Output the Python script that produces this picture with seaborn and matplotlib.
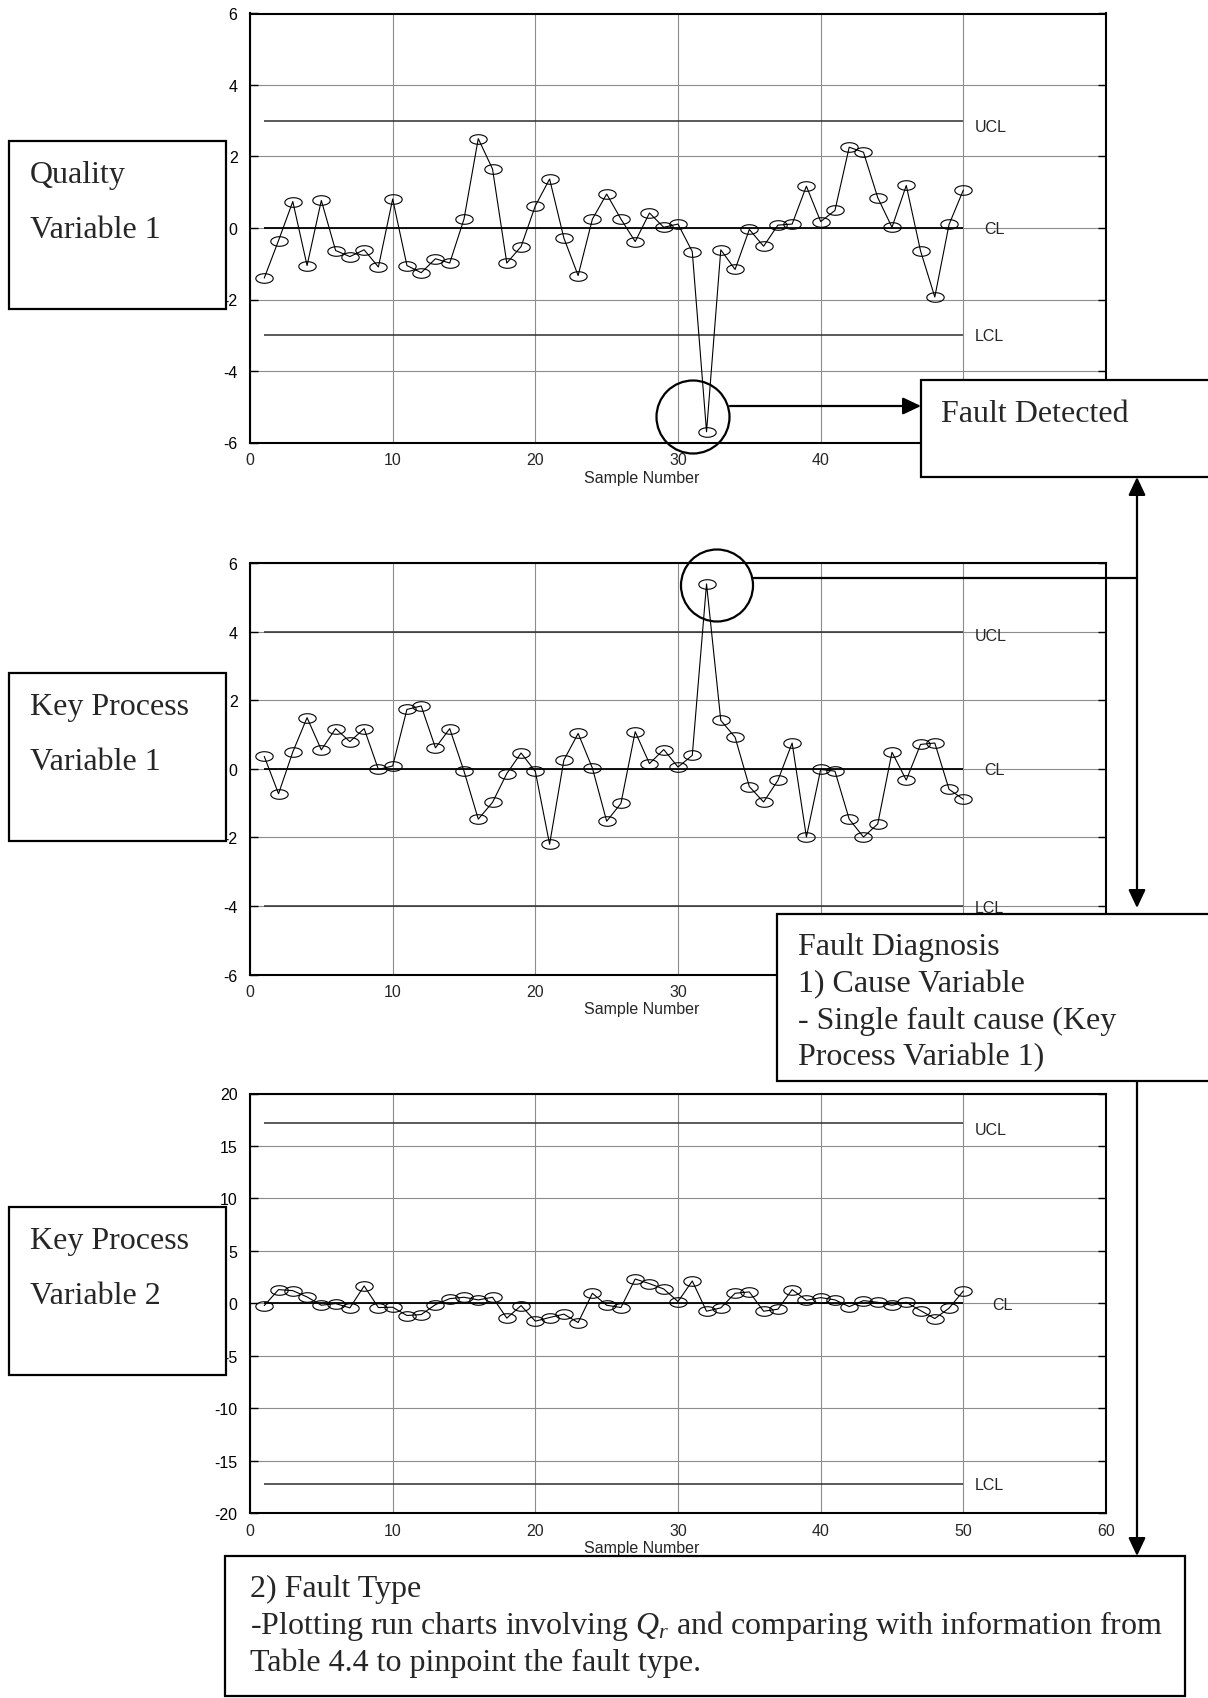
import numpy as np
import pandas as pd
import matplotlib
matplotlib.use("Agg")
import matplotlib.pyplot as plt
from matplotlib.path import Path
from matplotlib.patches import Rectangle, Circle
import seaborn as sns

# ---------------- data ----------------
sample = list(range(1, 51))

quality_var1 = [-1.40, -0.35, 0.74, -1.05, 0.77, -0.63, -0.80, -0.61, -1.09, 0.81,
                -1.05, -1.25, -0.86, -0.98, 0.25, 2.50, 1.65, -0.98, -0.52, 0.62,
                1.37, -0.28, -1.33, 0.25, 0.95, 0.25, -0.38, 0.42, 0.02, 0.11,
                -0.66, -5.70, -0.61, -1.16, -0.04, -0.51, 0.08, 0.11, 1.17, 0.18,
                0.49, 2.26, 2.12, 0.85, 0.02, 1.19, -0.64, -1.93, 0.10, 1.06]

key_var1 = [0.36, -0.73, 0.49, 1.49, 0.55, 1.17, 0.79, 1.17, -0.02, 0.08,
            1.73, 1.83, 0.61, 1.17, -0.07, -1.47, -0.98, -0.14, 0.46, -0.08,
            -2.20, 0.25, 1.03, 0.02, -1.53, -1.01, 1.08, 0.15, 0.56, 0.05,
            0.39, 5.39, 1.41, 0.92, -0.52, -0.97, -0.34, 0.75, -1.99, -0.02,
            -0.07, -1.47, -1.99, -1.61, 0.48, -0.33, 0.71, 0.75, -0.60, -0.89]

key_var2 = [-0.22, 1.30, 1.20, 0.60, -0.19, -0.03, -0.44, 1.65, -0.41, -0.38,
            -1.17, -1.08, -0.13, 0.44, 0.57, 0.32, 0.57, -1.42, -0.22, -1.71,
            -1.36, -1.04, -1.84, 0.95, -0.19, -0.41, 2.31, 1.87, 1.36, 0.16,
            2.12, -0.76, -0.44, 0.95, 1.08, -0.76, -0.57, 1.30, 0.28, 0.54,
            0.32, -0.32, 0.25, 0.09, -0.19, 0.09, -0.70, -1.46, -0.47, 1.17]

# control limits (UCL, CL, LCL)
limits_q1 = (3.0, 0.0, -3.0)
limits_k1 = (4.0, 0.0, -4.0)
limits_k2 = (17.2, 0.0, -17.2)

y_range_small = (-6, 6, 2)
y_range_large = (-20, 20, 5)
x_ticks = [0, 10, 20, 30, 40, 50, 60]
x_labels_full = ["0", "10", "20", "30", "40", "50", "60"]
x_labels_mid = ["0", "10", "20", "30", "", "", ""]   # rest sits under the diagnosis box

box_titles = [["Quality", "Variable 1"],
              ["Key Process", "Variable 1"],
              ["Key Process", "Variable 2"]]
diagnosis_lines = ["Fault Diagnosis", "1) Cause Variable",
                   "- Single fault cause (Key", "Process Variable 1)"]
fault_type_lines = ["2) Fault Type",
                    "-Plotting run charts involving $Q_r$ and comparing with information from",
                    "Table 4.4 to pinpoint the fault type."]

# ---------------- style ----------------
sns.set_style("white")
plt.rcParams["font.family"] = ["Liberation Sans", "DejaVu Sans"]
plt.rcParams["axes.unicode_minus"] = False
plt.rcParams["mathtext.fontset"] = "custom"
plt.rcParams["mathtext.rm"] = "Liberation Serif"
plt.rcParams["mathtext.it"] = "Liberation Serif:italic"

W, H = 1208, 1699
fig = plt.figure(figsize=(W / 100, H / 100), dpi=100)

def px_axes(left, top, right, bottom):
    return fig.add_axes([left / W, 1 - bottom / H, (right - left) / W, (bottom - top) / H])

theta = np.linspace(0, 2 * np.pi, 64)
ellipse_marker = Path(np.column_stack([np.cos(theta), 0.55 * np.sin(theta)]), closed=True)

TXT = 11.5

def control_chart(ax, values, limits, yr, cl_x, offs, xlabels):
    ucl, cl, lcl = limits
    ax.hlines([ucl, lcl], 1, 50, color="#2e2e2e", lw=1.1, zorder=2)
    ax.hlines([cl], 1, 50, color="black", lw=1.3, zorder=2)
    df = pd.DataFrame({"Sample Number": sample, "value": values})
    sns.lineplot(data=df, x="Sample Number", y="value", ax=ax, color="black",
                 lw=0.8, marker=ellipse_marker, markersize=12.5,
                 markerfacecolor="none", markeredgecolor="black",
                 markeredgewidth=0.8, zorder=3)
    ax.annotate("UCL", xy=(50.8, ucl), xytext=(0, -offs[0]), textcoords="offset pixels",
                va="center", ha="left", fontsize=TXT)
    ax.annotate("CL", xy=(cl_x, cl), xytext=(0, -1), textcoords="offset pixels",
                va="center", ha="left", fontsize=TXT)
    ax.annotate("LCL", xy=(50.8, lcl), xytext=(0, -offs[1]), textcoords="offset pixels",
                va="center", ha="left", fontsize=TXT)
    ax.set_xlim(0, 60)
    ax.set_ylim(yr[0], yr[1])
    ax.set_xticks(x_ticks)
    ax.set_xticklabels(xlabels)
    ax.set_yticks(np.arange(yr[0], yr[1] + 1, yr[2]))
    ax.grid(True, color="#8c8c8c", lw=0.8)
    ax.set_axisbelow(True)
    ax.tick_params(axis="y", direction="in", length=6, width=1, left=True, right=True,
                   pad=9, labelsize=TXT, colors="black")
    ax.tick_params(axis="x", length=0, pad=7, labelsize=TXT)
    for s in ax.spines.values():
        s.set_linewidth(1.5)
        s.set_color("black")
    ax.set_ylabel("")
    ax.set_xlabel("Sample Number", fontsize=TXT)
    h = ax.get_position().height * H
    ax.xaxis.set_label_coords(0.457, -27 / h)

ax1 = px_axes(250, 14.5, 1106, 443.5)
control_chart(ax1, quality_var1, limits_q1, y_range_small, 51.5, (6, 0), x_labels_full)

ax2 = px_axes(250, 564, 1106, 975.5)
control_chart(ax2, key_var1, limits_k1, y_range_small, 51.5, (4, 2), x_labels_mid)

ax3 = px_axes(250, 1094.5, 1106, 1514)
control_chart(ax3, key_var2, limits_k2, y_range_large, 52.0, (7, 1), x_labels_full)

# ---------------- annotation layer ----------------
ov = fig.add_axes([0, 0, 1, 1], zorder=10)
ov.set_xlim(0, W)
ov.set_ylim(H, 0)
ov.axis("off")
ov.patch.set_alpha(0)

SERIF = ["Liberation Serif", "DejaVu Serif"]
BIG = 23

def box(x0, y0, x1, y1):
    ov.add_patch(Rectangle((x0, y0), x1 - x0, y1 - y0, fc="white", ec="black", lw=1.6))

for (top, lines) in zip([142, 674, 1208], box_titles):
    box(9, top, 226, top + 168)
    ov.text(30, top + 41, lines[0], family=SERIF, fontsize=BIG, va="baseline")
    ov.text(30, top + 96, lines[1], family=SERIF, fontsize=BIG, va="baseline")

box(921, 381, 1215, 478)
ov.text(941, 422, "Fault Detected", family=SERIF, fontsize=BIG, va="baseline")

box(777, 915, 1215, 1082)
for i, line in enumerate(diagnosis_lines):
    ov.text(798, 955 + 36.8 * i, line, family=SERIF, fontsize=BIG, va="baseline")

box(225, 1557, 1185, 1697)
for i, line in enumerate(fault_type_lines):
    ov.text(250, 1597 + 37 * i, line, family=SERIF, fontsize=BIG, va="baseline")

ov.add_patch(Circle((693, 418), 36.5, fill=False, ec="black", lw=1.6))
ov.add_patch(Circle((717, 586.5), 36, fill=False, ec="black", lw=1.6))

arrow = dict(arrowstyle="-|>,head_length=0.55,head_width=0.26", mutation_scale=20,
             color="black", lw=1.6, shrinkA=0, shrinkB=0)
ov.annotate("", xy=(921, 407), xytext=(730, 407), arrowprops=arrow)
ov.plot([753, 1137], [579, 579], color="black", lw=1.6)
ov.annotate("", xy=(1137, 478), xytext=(1137, 909),
            arrowprops=dict(arrow, arrowstyle="<|-|>,head_length=0.55,head_width=0.26"))
ov.annotate("", xy=(1137, 1557), xytext=(1137, 1082), arrowprops=arrow)

fig.savefig("out.png", dpi=100)
